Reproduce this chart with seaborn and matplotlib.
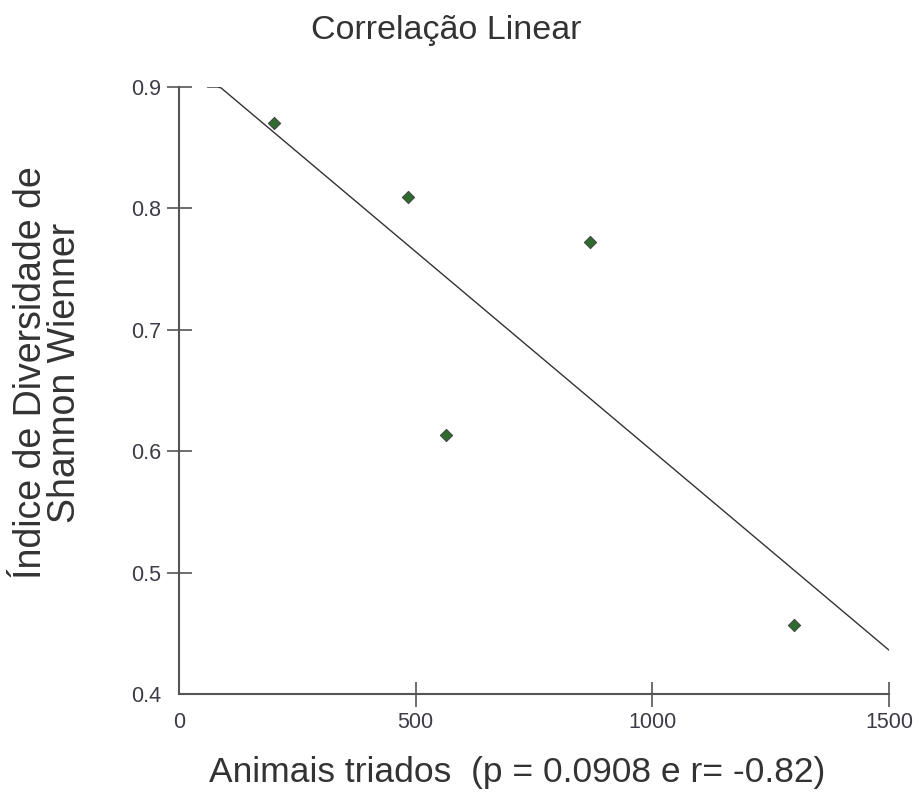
import numpy as np
import pandas as pd
import matplotlib
matplotlib.use('Agg')
import matplotlib.pyplot as plt
import seaborn as sns

# valores
animais = [201, 484, 564, 868, 1299]
shannon = [0.870, 0.809, 0.613, 0.772, 0.457]
x_ticks = [0, 500, 1000, 1500]
y_ticks = [0.4, 0.5, 0.6, 0.7, 0.8, 0.9]
titulo = 'Correlação Linear'
rotulo_x = 'Animais triados  (p = 0.0908 e r= -0.82)'
rotulo_y = 'Índice de Diversidade de\nShannon Wienner'

df = pd.DataFrame({'animais': animais, 'shannon': shannon})

# reta de regressão (limitada ao topo do eixo, como no original)
coef = np.polyfit(df['animais'], df['shannon'], 1)
x_reta = np.linspace(60, 1500, 200)
y_reta = np.minimum(np.polyval(coef, x_reta), 0.9)
reta = pd.DataFrame({'x': x_reta, 'y': y_reta})

sns.set_style('white')
plt.rcParams['font.family'] = ['Liberation Sans', 'DejaVu Sans']

fig = plt.figure(figsize=(9.2, 8.05), dpi=100)
ax = fig.add_axes([179/920, 1 - 694/805, 710/920, 607/805])

sns.lineplot(data=reta, x='x', y='y', color='#333333', linewidth=1.0, ax=ax)
sns.scatterplot(data=df, x='animais', y='shannon', marker='D', s=40,
                color='#2f6b2f', edgecolor='#3a3a3a', linewidth=0.6, ax=ax, zorder=3)

ax.set_xlim(0, 1500)
ax.set_ylim(0.4, 0.9)
ax.set_xticks(x_ticks)
ax.set_yticks(y_ticks)
ax.set_xticklabels([str(t) for t in x_ticks])
ax.set_yticklabels([f'{t:.1f}' for t in y_ticks])
ax.set_xlabel('')
ax.set_ylabel('')

for s in ['top', 'right']:
    ax.spines[s].set_visible(False)
for s in ['left', 'bottom']:
    ax.spines[s].set_color('#555555')
    ax.spines[s].set_linewidth(1.5)

ax.tick_params(axis='both', direction='inout', length=18, width=1.2,
               color='#555555', labelsize=15.5, labelcolor='#3c3c48', pad=4,
               left=True, bottom=True)
ax.xaxis.get_major_ticks()[0].tick1line.set_visible(False)
ax.yaxis.get_major_ticks()[0].tick1line.set_visible(False)

fig.text(446/920, 1 - 31/805, titulo, ha='center', va='center',
         fontsize=24.5, color='#333333')
fig.text(517/920, 1 - 772/805, rotulo_x, ha='center', va='center',
         fontsize=25.5, color='#333333')
fig.text(48/920, 1 - 373/805, rotulo_y, ha='center', va='center',
         rotation=90, fontsize=27, color='#333333', linespacing=0.95)

fig.savefig('out.png', dpi=100, facecolor='white')
